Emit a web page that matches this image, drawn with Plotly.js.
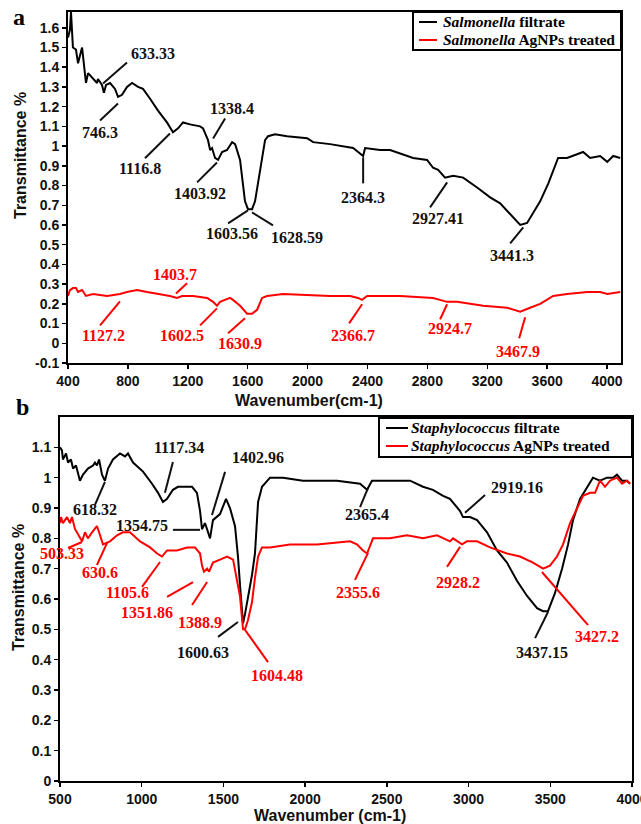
<!DOCTYPE html>
<html><head><meta charset="utf-8">
<script src="https://cdn.plot.ly/plotly-3.0.1.min.js"></script>
<style>html,body{margin:0;padding:0;background:#fff}#chart{width:641px;height:824px}</style>
</head><body><div id="chart"></div>
<script>
// ---------- Panel a : Salmonella ----------
const waveA_filtrate = [400,413,420,427,433,453,467,494,507,520,534,560,594,600,627,640,654,681,714,734,761,794,828,868,901,948,1001,1061,1101,1135,1168,1215,1282,1302,1335,1349,1362,1382,1402,1429,1462,1496,1516,1549,1582,1602,1629,1649,1669,1696,1716,1736,1783,1863,1997,2037,2150,2304,2351,2371,2384,2484,2551,2705,2798,2838,2872,2918,2972,3039,3132,3219,3286,3373,3420,3466,3506,3553,3607,3640,3673,3733,3800,3840,3887,3954,4001,4041,4088];
const transA_filtrate = [1.55,1.59,1.68,1.54,1.50,1.49,1.42,1.50,1.40,1.32,1.37,1.35,1.32,1.34,1.31,1.27,1.31,1.32,1.29,1.25,1.26,1.30,1.32,1.30,1.29,1.24,1.18,1.12,1.07,1.09,1.12,1.11,1.10,1.09,1.03,0.98,0.99,0.94,0.93,0.97,0.98,1.02,1.01,0.93,0.72,0.68,0.68,0.72,0.81,0.93,1.03,1.05,1.06,1.05,1.04,1.02,1.01,0.99,0.96,0.95,0.99,0.98,0.98,0.94,0.93,0.89,0.88,0.84,0.85,0.84,0.79,0.74,0.71,0.64,0.60,0.61,0.66,0.72,0.81,0.88,0.94,0.94,0.96,0.97,0.94,0.95,0.92,0.95,0.94];
const waveA_treated = [400,413,433,453,467,494,520,567,661,747,794,861,928,1015,1081,1128,1162,1235,1329,1369,1395,1415,1482,1502,1549,1596,1629,1663,1696,1729,1836,2150,2284,2337,2364,2397,2618,2838,2932,2999,3172,3333,3420,3486,3553,3640,3733,3867,3954,4001,4088];
const transA_treated = [0.24,0.27,0.28,0.28,0.26,0.27,0.24,0.25,0.24,0.25,0.26,0.27,0.26,0.25,0.24,0.23,0.24,0.24,0.23,0.21,0.19,0.21,0.23,0.22,0.19,0.15,0.15,0.17,0.23,0.24,0.25,0.24,0.24,0.23,0.22,0.24,0.24,0.23,0.21,0.21,0.19,0.18,0.16,0.18,0.20,0.24,0.25,0.26,0.26,0.25,0.26];
const tickA_x = [400,800,1200,1600,2000,2400,2800,3200,3600,4000];
const tickA_y = [-0.1,0,0.1,0.2,0.3,0.4,0.5,0.6,0.7,0.8,0.9,1,1.1,1.2,1.3,1.4,1.5,1.6];
const tickA_yText = ['-0.1','0','0.1','0.2','0.3','0.4','0.5','0.6','0.7','0.8','0.9','1','1.1','1.2','1.3','1.4','1.5','1.6'];
const legendA = ['<i>Salmonella</i> filtrate', '<i>Salmonella</i> AgNPs treated'];

// ---------- Panel b : Staphylococcus ----------
const waveB_filtrate = [500,512,518,537,549,567,580,598,622,641,671,702,714,726,739,757,775,794,824,867,898,916,947,1008,1063,1100,1130,1155,1191,1222,1265,1308,1338,1357,1369,1387,1400,1418,1436,1479,1516,1540,1571,1589,1605,1620,1632,1650,1675,1693,1712,1736,1773,1785,1865,1987,2073,2195,2336,2379,2409,2519,2642,2721,2782,2844,2886,2948,2966,3009,3052,3113,3174,3235,3296,3358,3419,3456,3486,3529,3572,3609,3639,3682,3725,3761,3804,3847,3884,3908,3939,3969,3988];
const transB_filtrate = [1.10,1.09,1.06,1.08,1.05,1.06,1.03,1.04,0.99,1.01,1.03,1.04,1.05,1.04,1.06,1.01,0.99,1.03,1.06,1.08,1.07,1.08,1.05,1.02,0.98,0.95,0.92,0.93,0.96,0.97,0.97,0.97,0.95,0.89,0.83,0.85,0.83,0.80,0.86,0.88,0.93,0.90,0.84,0.74,0.62,0.52,0.55,0.60,0.68,0.75,0.92,0.97,0.99,1.00,1.00,0.99,0.99,0.99,0.98,0.96,0.99,0.99,0.99,0.97,0.96,0.94,0.93,0.89,0.87,0.87,0.86,0.82,0.76,0.72,0.66,0.61,0.57,0.56,0.56,0.62,0.70,0.78,0.86,0.93,0.97,1.00,0.99,1.00,1.00,1.01,0.99,0.99,0.98];
const waveB_treated = [500,506,518,543,561,573,592,622,635,653,671,696,714,726,739,763,806,849,885,928,990,1051,1094,1124,1155,1216,1277,1326,1357,1369,1381,1400,1412,1436,1479,1522,1559,1583,1601,1620,1632,1650,1675,1693,1712,1736,1785,1907,2073,2275,2317,2354,2379,2415,2519,2623,2721,2807,2886,2905,2960,2990,3052,3131,3235,3315,3394,3456,3498,3541,3578,3621,3664,3700,3743,3774,3804,3835,3865,3908,3939,3969,3988];
const transB_treated = [0.85,0.87,0.85,0.87,0.85,0.87,0.83,0.80,0.79,0.82,0.80,0.82,0.83,0.84,0.82,0.78,0.79,0.81,0.82,0.82,0.79,0.77,0.75,0.74,0.76,0.76,0.77,0.77,0.75,0.71,0.69,0.70,0.69,0.72,0.73,0.74,0.73,0.66,0.61,0.50,0.50,0.53,0.59,0.67,0.74,0.77,0.77,0.78,0.78,0.79,0.78,0.76,0.75,0.80,0.80,0.81,0.80,0.81,0.79,0.80,0.78,0.79,0.79,0.77,0.75,0.74,0.72,0.70,0.71,0.74,0.78,0.85,0.90,0.94,0.95,0.95,0.99,0.97,0.99,1.00,0.98,0.99,0.98];
const tickB_x = [500,1000,1500,2000,2500,3000,3500,4000];
const tickB_y = [0,0.1,0.2,0.3,0.4,0.5,0.6,0.7,0.8,0.9,1,1.1];
const tickB_yText = ['0','0.1','0.2','0.3','0.4','0.5','0.6','0.7','0.8','0.9','1','1.1'];
const legendB = ['<i>Staphylococcus</i> filtrate', '<i>Staphylococcus</i> AgNPs treated'];

// ---------- Peak labels ----------
const peakLabelsA = ['633.33','746.3','1116.8','1338.4','1403.92','1603.56','1628.59','2364.3','2927.41','3441.3',
                     '1127.2','1403.7','1602.5','1630.9','2366.7','2924.7','3467.9'];
const peakLabelsB = ['1117.34','618.32','1402.96','1354.75','1600.63','2365.4','2919.16','3437.15',
                     '503.33','630.6','1105.6','1351.86','1388.9','1604.48','2355.6','2928.2','3427.2'];

// layout placements: [textX, textY, lineX0, lineY0, lineX1, lineY1, colour]
const BLK = '#111111', RED = '#ff0000';
const placeA = [
 [968,1.470, 794,1.424, 634,1.318, BLK],
 [614,1.069, 614,1.130, 734,1.216, BLK],
 [881,0.887, 914,0.938, 1081,1.064, BLK],
 [1496,1.191, 1449,1.140, 1369,1.039, BLK],
 [1282,0.760, 1262,0.816, 1395,0.917, BLK],
 [1496,0.558, 1469,0.608, 1602,0.674, BLK],
 [1930,0.537, 1769,0.598, 1629,0.664, BLK],
 [2371,0.740, 2371,0.811, 2371,0.943, BLK],
 [2872,0.634, 2818,0.689, 2932,0.816, BLK],
 [3366,0.446, 3353,0.507, 3440,0.588, BLK],
 [634,0.041, 614,0.091, 747,0.213, RED],
 [1115,0.350, 1121,0.253, 1195,0.304, RED],
 [1162,0.041, 1282,0.091, 1395,0.177, RED],
 [1549,0.000, 1469,0.051, 1582,0.127, RED],
 [2304,0.041, 2277,0.101, 2364,0.198, RED],
 [2952,0.076, 2885,0.122, 2932,0.198, RED],
 [3406,-0.041, 3413,0.025, 3453,0.132, RED]
];
const placeB = [
 [1228,1.098, 1191,1.052, 1142,0.950, BLK],
 [714,0.894, 775,0.986, 714,0.910, BLK],
 [1712,1.065, 1510,1.019, 1430,0.877, BLK],
 [1002,0.841, 1191,0.828, 1357,0.828, BLK],
 [1375,0.425, 1467,0.475, 1589,0.524, BLK],
 [2379,0.877, 2336,0.903, 2385,0.966, BLK],
 [3296,0.966, 2978,0.884, 3101,0.943, BLK],
 [3449,0.422, 3407,0.471, 3486,0.557, BLK],
 [512,0.750, 549,0.768, 635,0.788, RED],
 [745,0.686, 726,0.712, 788,0.785, RED],
 [916,0.620, 1002,0.640, 1112,0.722, RED],
 [1032,0.557, 1155,0.607, 1314,0.656, RED],
 [1357,0.524, 1308,0.580, 1400,0.656, RED],
 [1828,0.349, 1773,0.392, 1632,0.498, RED],
 [2324,0.620, 2305,0.663, 2385,0.752, RED],
 [2936,0.656, 2868,0.706, 2948,0.772, RED],
 [3786,0.475, 3731,0.514, 3449,0.689, RED]
];

const W = 641, H = 824;
const px = v => v / W, py = v => 1 - v / H;

const traces = [
 {x: waveA_filtrate, y: transA_filtrate, xaxis:'x', yaxis:'y', mode:'lines', line:{color:'#000', width:2}, name:legendA[0]},
 {x: waveA_treated, y: transA_treated, xaxis:'x', yaxis:'y', mode:'lines', line:{color:'#ff0000', width:2}, name:legendA[1]},
 {x: waveB_filtrate, y: transB_filtrate, xaxis:'x2', yaxis:'y2', mode:'lines', line:{color:'#000', width:2}, name:legendB[0]},
 {x: waveB_treated, y: transB_treated, xaxis:'x2', yaxis:'y2', mode:'lines', line:{color:'#ff0000', width:2}, name:legendB[1]}
];

const tickFont = {family:'Liberation Sans, Arial, sans-serif', size:14, weight:'bold', color:'#111'};
const axisBase = {showline:true, mirror:true, linecolor:'#000', linewidth:2, ticks:'outside', ticklen:4, tickwidth:1.5, tickcolor:'#000', showgrid:false, zeroline:false, tickfont:tickFont, automargin:false, fixedrange:true, ticklabeloverflow:'allow'};

const annotations = [];
const shapes = [];
function addLabels(labels, place, xr, yr) {
  labels.forEach((t, i) => {
    const p = place[i];
    annotations.push({text:t, x:p[0], y:p[1], xref:xr, yref:yr, xanchor:'center', yanchor:'middle', showarrow:false,
      font:{family:'Liberation Serif, Times New Roman, serif', size:16, weight:'bold', color:p[6]}});
    shapes.push({type:'line', xref:xr, yref:yr, x0:p[2], y0:p[3], x1:p[4], y1:p[5], line:{color:p[6], width:2}});
  });
}
addLabels(peakLabelsA, placeA, 'x', 'y');
addLabels(peakLabelsB, placeB, 'x2', 'y2');

const titleFont = {family:'Liberation Sans, Arial, sans-serif', size:16, weight:'bold', color:'#111'};
const letterFont = {family:'Liberation Serif, serif', size:24, weight:'bold', color:'#000'};
const pa = (text, x, y, font, extra) => Object.assign({text:text, xref:'paper', yref:'paper', x:px(x), y:py(y), xanchor:'center', yanchor:'middle', showarrow:false, font:font}, extra || {});
annotations.push(
 pa('Transmittance %', 20, 156, titleFont, {textangle:-90}),
 pa('Transmittance %', 18, 588, titleFont, {textangle:-90}),
 pa('Wavenumber(cm-1)', 309, 400, titleFont),
 pa('Wavenumber (cm-1)', 330, 815, titleFont),
 pa('a', 19, 17, letterFont),
 pa('b', 22, 407, letterFont)
);

// legends drawn as framed boxes with line swatches
function addLegend(names, colours, box, swX0, swX1, rowY, textX, size) {
  shapes.push({type:'rect', xref:'paper', yref:'paper', x0:px(box[0]), x1:px(box[2]), y0:py(box[1]), y1:py(box[3]),
    line:{color:'#000', width:2}, fillcolor:'#fff', layer:'above'});
  names.forEach((n, i) => {
    shapes.push({type:'line', xref:'paper', yref:'paper', x0:px(swX0), x1:px(swX1), y0:py(rowY[i]), y1:py(rowY[i]),
      line:{color:colours[i], width:2}, layer:'above'});
    annotations.push({text:n, xref:'paper', yref:'paper', x:px(textX), y:py(rowY[i] - 1), xanchor:'left', yanchor:'middle',
      showarrow:false, font:{family:'Liberation Serif, Times New Roman, serif', size:size, weight:'bold', color:'#000'}});
  });
}
addLegend(legendA, ['#000', '#ff0000'], [413, 12, 621, 50], 419, 437, [22, 40], 441, 15.5);
addLegend(legendB, ['#000', '#ff0000'], [379, 418, 632, 457], 386, 408, [428, 446], 409, 15.5);

const layout = {
  width:W, height:H, margin:{l:0, r:0, t:0, b:0}, paper_bgcolor:'#fff', plot_bgcolor:'#fff',
  showlegend:false,
  xaxis: Object.assign({}, axisBase, {domain:[px(68), px(621)], range:[400, 4093], anchor:'y', tickvals:tickA_x}),
  yaxis: Object.assign({}, axisBase, {domain:[py(363), py(12)], range:[-0.1, 1.68], anchor:'x', tickvals:tickA_y, ticktext:tickA_yText}),
  xaxis2: Object.assign({}, axisBase, {domain:[px(60), px(632)], range:[500, 4000], anchor:'y2', tickvals:tickB_x}),
  yaxis2: Object.assign({}, axisBase, {domain:[py(781), py(417)], range:[0, 1.2], anchor:'x2', tickvals:tickB_y, ticktext:tickB_yText}),
  annotations: annotations,
  shapes: shapes
};

Plotly.newPlot('chart', traces, layout, {staticPlot:true, displayModeBar:false});
</script></body></html>
